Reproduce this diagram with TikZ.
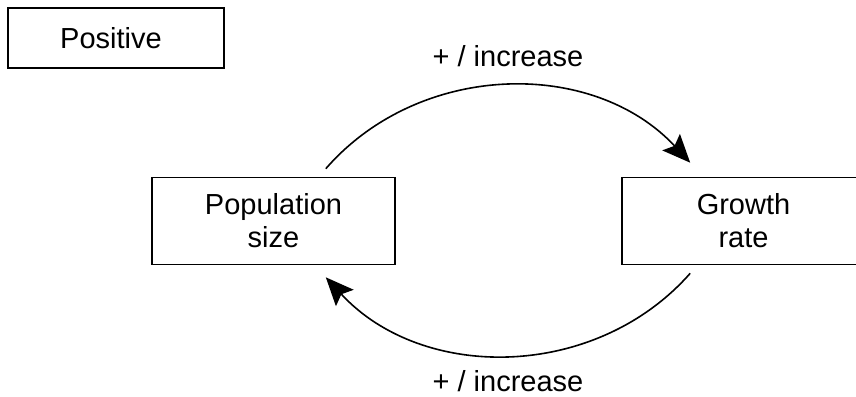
\documentclass[tikz,border=0pt]{standalone}
\usepackage{fontspec}
\setmainfont{Liberation Sans}
\usetikzlibrary{arrows.meta}
\begin{document}
\begin{tikzpicture}[x=1pt,y=-1pt,
  txt/.style={font=\fontsize{29}{33}\selectfont},
  box/.style={txt,draw,line width=1.6pt,minimum width=243pt,minimum height=87pt,align=center,inner sep=0pt},
  lbl/.style={txt,inner sep=0pt},
  link/.style={line width=1.6pt,-{Stealth[length=28pt,width=24pt,inset=5pt]}}]
\path[use as bounding box,clip] (0,0) rectangle (856,396);
\fill[white] (0,0) rectangle (856,396);
\node[box,minimum width=216pt,minimum height=60pt] (leg) at (116,38) {\hspace*{-10pt}Positive};
\node[box] (pop) at (273.5,221) {Population\\size};
\node[box] (gr) at (743.5,221) {Growth\\rate};
\node[lbl] (top) at (508,56) {+ / increase};
\node[lbl] (bot) at (508,381) {+ / increase};
\coordinate (s1) at ([xshift=-70pt,yshift=8pt]pop.north east);
\coordinate (t1) at ([xshift=69pt,yshift=14pt]gr.north west);
\coordinate (s2) at ([xshift=69pt,yshift=-8pt]gr.south west);
\coordinate (t2) at ([xshift=-70pt,yshift=-12pt]pop.south east);
\draw[link] (s1) to[bend left=48] (t1);
\draw[link] (s2) to[bend left=48] (t2);
\end{tikzpicture}
\end{document}
